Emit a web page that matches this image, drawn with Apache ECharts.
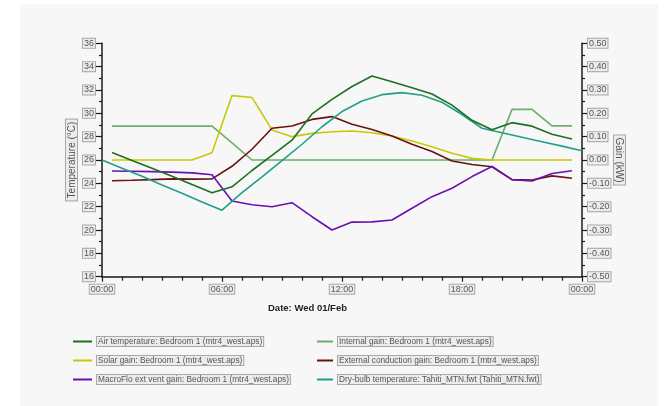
<!DOCTYPE html>
<html>
<head>
<meta charset="utf-8">
<script src="https://cdn.jsdelivr.net/npm/echarts@6/dist/echarts.min.js"></script>
<style>
  html, body { margin: 0; padding: 0; background: #ffffff; }
  #chart { width: 669px; height: 406px; }
</style>
</head>
<body>
<div id="chart"></div>
<script>
// Half-hourly room results (time in hours from midnight)
const halfHours = [0.5, 1.5, 2.5, 3.5, 4.5, 5.5, 6.5, 7.5, 8.5, 9.5, 10.5, 11.5,
                   12.5, 13.5, 14.5, 15.5, 16.5, 17.5, 18.5, 19.5, 20.5, 21.5, 22.5, 23.5];

// Air temperature, °C
const airTemp = [26.65, 25.95, 25.3, 24.6, 23.9, 23.2, 23.7, 25.1, 26.4, 27.7, 29.95, 31.2,
                 32.3, 33.2, 32.7, 32.2, 31.65, 30.7, 29.4, 28.6, 29.2, 28.9, 28.2, 27.8];

// Gains, kW
const internalGain = [0.145, 0.145, 0.145, 0.145, 0.145, 0.145, 0.073, 0, 0, 0, 0, 0,
                      0, 0, 0, 0, 0, 0, 0, 0, 0.217, 0.217, 0.146, 0.146];
const solarGain = [0, 0, 0, 0, 0, 0.031, 0.276, 0.268, 0.129, 0.1, 0.114, 0.121,
                   0.124, 0.117, 0.103, 0.081, 0.057, 0.029, 0.007, 0, 0, 0, 0, 0];
const externalGain = [-0.089, -0.087, -0.084, -0.081, -0.082, -0.081, -0.027, 0.046, 0.136, 0.146, 0.174, 0.186,
                      0.153, 0.131, 0.103, 0.067, 0.036, -0.004, -0.019, -0.029, -0.084, -0.086, -0.068, -0.078];
const macroFloGain = [-0.047, -0.048, -0.05, -0.052, -0.055, -0.063, -0.176, -0.192, -0.2, -0.183, -0.243, -0.3,
                      -0.266, -0.265, -0.257, -0.207, -0.157, -0.121, -0.071, -0.028, -0.084, -0.09, -0.058, -0.046];

// Hourly weather file values
const weatherHours = [0, 1, 2, 3, 4, 5, 6, 7, 8, 9, 10, 11, 12, 13, 14, 15, 16, 17, 18, 19, 20, 21, 22, 23, 24];
const dryBulb = [26.0, 25.3, 24.6, 23.85, 23.15, 22.4, 21.7, 23.2, 24.55, 25.95, 27.35, 28.85,
                 30.15, 31.05, 31.6, 31.77, 31.55, 30.95, 29.9, 28.72, 28.33, 27.95, 27.57, 27.19, 26.8];

const seriesNames = [
  'Air temperature: Bedroom 1 (mtr4_west.aps)',
  'Internal gain: Bedroom 1 (mtr4_west.aps)',
  'Solar gain: Bedroom 1 (mtr4_west.aps)',
  'External conduction gain: Bedroom 1 (mtr4_west.aps)',
  'MacroFlo ext vent gain: Bedroom 1 (mtr4_west.aps)',
  'Dry-bulb temperature: Tahiti_MTN.fwt (Tahiti_MTN.fwt)'
];
const seriesColors = ['#1f6e1f', '#6dac6d', '#c8c808', '#6a1212', '#6a10b0', '#1ea08a'];

const xTickLabels = ['00:00', '06:00', '12:00', '18:00', '00:00'];

const pair = (xs, ys) => xs.map((x, i) => [x, ys[i]]);

const FONT = 'Liberation Sans, Arial, sans-serif';
const boxLabel = {
  fontFamily: FONT,
  fontSize: 9,
  color: '#555555',
  backgroundColor: '#ececec',
  borderColor: '#a8a8a8',
  borderWidth: 1,
  padding: [0, 1, 0, 1]
};

function lineSeries(idx, data, yAxisIndex) {
  return {
    name: seriesNames[idx],
    type: 'line',
    yAxisIndex: yAxisIndex,
    data: data,
    showSymbol: false,
    symbol: 'none',
    smooth: false,
    animation: false,
    lineStyle: { width: 1.6, color: seriesColors[idx] },
    itemStyle: { color: seriesColors[idx] },
    z: 3
  };
}

const chart = echarts.init(document.getElementById('chart'), null, { renderer: 'canvas' });

const legendText = Object.assign({}, boxLabel, { fontSize: 8.3, padding: [1, 1, 0, 1] });
const axisNameText = Object.assign({}, boxLabel, { fontSize: 10, padding: [1, 2, 0, 2] });

chart.setOption({
  backgroundColor: '#ffffff',
  animation: false,
  graphic: [{
    type: 'rect',
    left: 20, top: 4,
    shape: { width: 638, height: 402 },
    style: { fill: '#f7f7f7' },
    z: -10, silent: true
  }],
  title: {
    text: 'Date: Wed 01/Feb',
    left: 268, top: 303,
    padding: 0,
    textStyle: {
      fontFamily: FONT, fontSize: 9.5, fontWeight: 'bold', color: '#222222',
      backgroundColor: '#e6e6e6', borderColor: '#a0a0a0', borderWidth: 1,
      padding: [2, 1, 1, 1]
    }
  },
  grid: { left: 102, right: 87, top: 43.3, bottom: 129.3, containLabel: false },
  legend: [
    {
      data: [seriesNames[0], seriesNames[2], seriesNames[4]],
      orient: 'vertical', left: 73, top: 336,
      itemWidth: 19, itemHeight: 2, itemGap: 8,
      icon: 'rect', padding: 0,
      textStyle: legendText
    },
    {
      data: [seriesNames[1], seriesNames[3], seriesNames[5]],
      orient: 'vertical', left: 317, top: 336,
      itemWidth: 16, itemHeight: 2, itemGap: 8,
      icon: 'rect', padding: 0,
      textStyle: legendText
    }
  ],
  xAxis: {
    type: 'value',
    min: 0, max: 24, interval: 6,
    axisLine: { show: true, onZero: false, lineStyle: { color: '#1a1a1a', width: 1.5 } },
    axisTick: { show: true, length: 5, lineStyle: { color: '#1a1a1a', width: 1.2 } },
    minorTick: { show: true, splitNumber: 6, length: 4, lineStyle: { color: '#1a1a1a', width: 1.2 } },
    splitLine: { show: false },
    axisLabel: Object.assign({}, boxLabel, {
      margin: 8,
      formatter: (v) => xTickLabels[Math.round(v / 6)]
    })
  },
  yAxis: [
    {
      type: 'value',
      min: 16, max: 36, interval: 2,
      name: 'Temperature (°C)',
      nameLocation: 'middle', nameRotate: 90, nameGap: 25,
      nameMoveOverlap: false,
      nameTextStyle: axisNameText,
      axisLine: { show: true, onZero: false, lineStyle: { color: '#1a1a1a', width: 1.5 } },
      axisTick: { show: true, length: 6, lineStyle: { color: '#1a1a1a', width: 1.2 } },
      minorTick: { show: true, splitNumber: 2, length: 3, lineStyle: { color: '#1a1a1a', width: 1.2 } },
      splitLine: { show: false },
      axisLabel: Object.assign({}, boxLabel, { margin: 7 })
    },
    {
      type: 'value',
      min: -0.5, max: 0.5, interval: 0.1,
      position: 'right',
      name: 'Gain (kW)',
      nameLocation: 'middle', nameRotate: -90, nameGap: 32,
      nameMoveOverlap: false,
      nameTextStyle: axisNameText,
      axisLine: { show: true, onZero: false, lineStyle: { color: '#1a1a1a', width: 1.5 } },
      axisTick: { show: true, length: 6, lineStyle: { color: '#1a1a1a', width: 1.2 } },
      minorTick: { show: true, splitNumber: 2, length: 3, lineStyle: { color: '#1a1a1a', width: 1.2 } },
      splitLine: { show: false },
      axisLabel: Object.assign({}, boxLabel, {
        margin: 6,
        formatter: (v) => (Math.abs(v) < 1e-9 ? 0 : v).toFixed(2)
      })
    }
  ],
  series: [
    lineSeries(1, pair(halfHours, internalGain), 1),
    lineSeries(2, pair(halfHours, solarGain), 1),
    lineSeries(3, pair(halfHours, externalGain), 1),
    lineSeries(4, pair(halfHours, macroFloGain), 1),
    lineSeries(5, pair(weatherHours, dryBulb), 0),
    lineSeries(0, pair(halfHours, airTemp), 0)
  ]
});
</script>
</body>
</html>
